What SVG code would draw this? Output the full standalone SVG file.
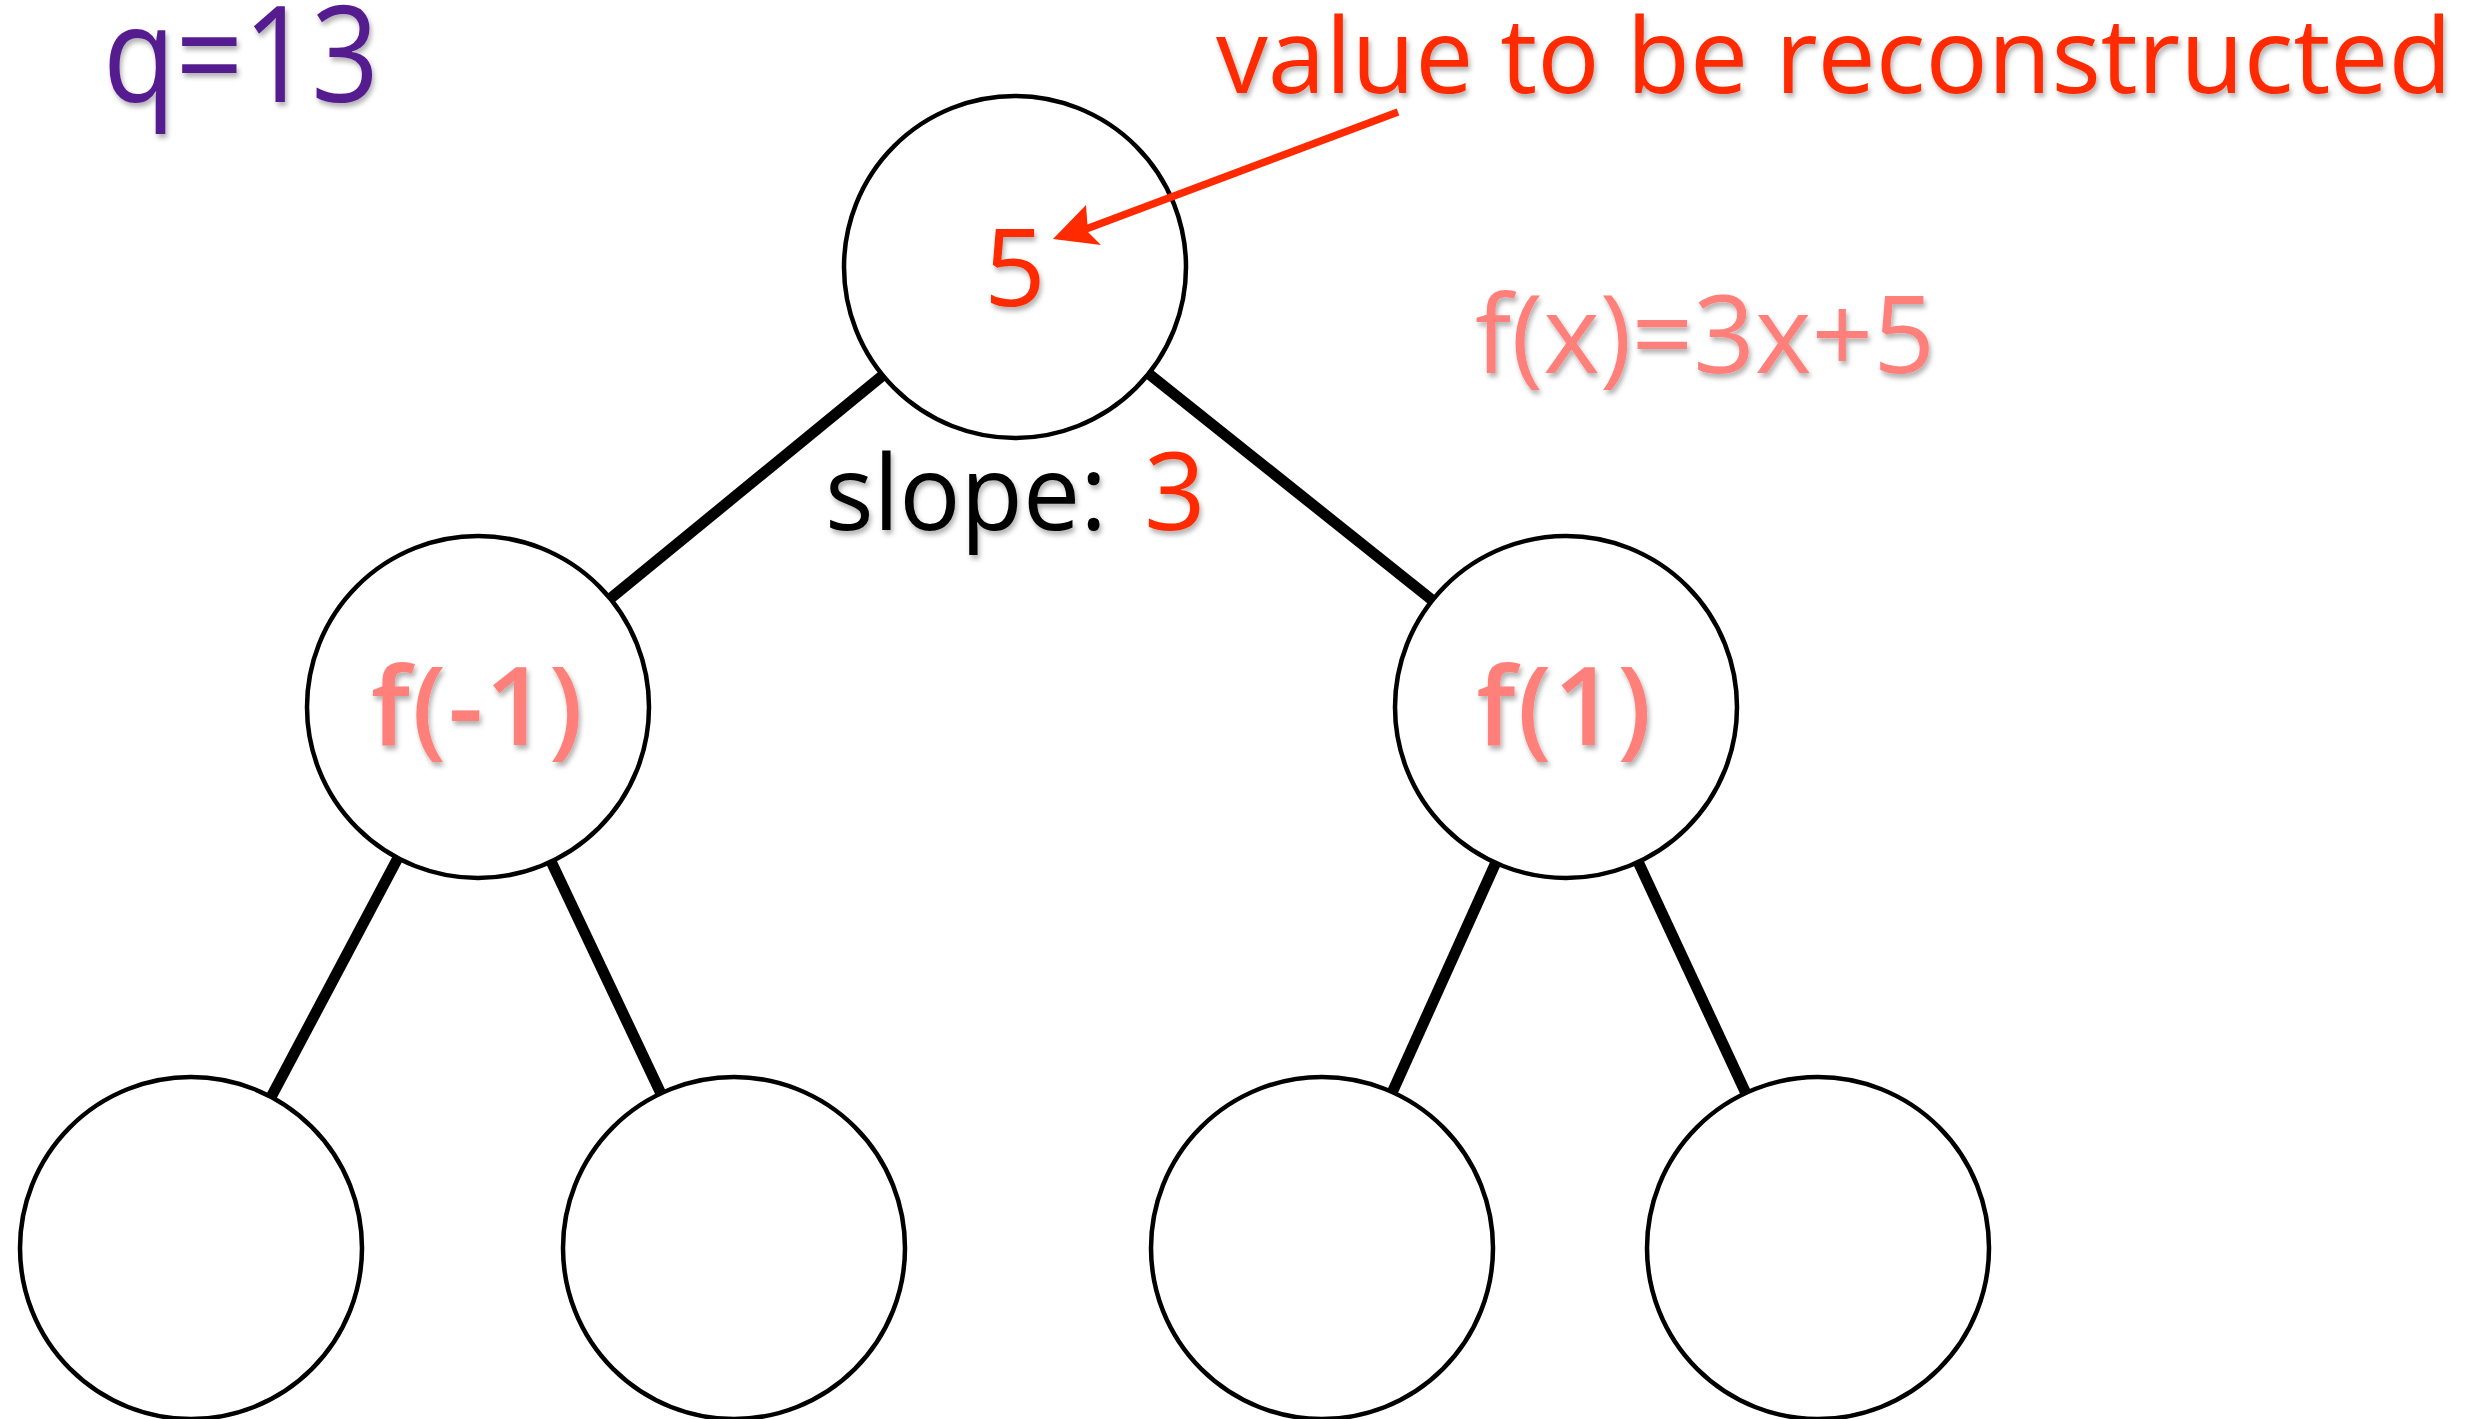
<svg xmlns="http://www.w3.org/2000/svg" width="2477" height="1419" viewBox="0 0 2477 1419">
<defs>
<filter id="sh" x="-10%" y="-10%" width="130%" height="140%">
<feDropShadow dx="2" dy="4" stdDeviation="2.5" flood-color="#000" flood-opacity="0.3"/>
</filter>
</defs>
<style>
.node{fill:#fff;stroke:#000;stroke-width:4.5}
.edge{stroke:#000;stroke-width:11;stroke-linecap:butt}
text{font-family:"Open Sans","Noto Sans","DejaVu Sans",sans-serif;filter:url(#sh)}
.red{fill:#ff2a00}
.pink{fill:#ff807a}
.blk{fill:#000}
</style>
<rect width="2477" height="1419" fill="#fff"/>
<g id="connectors">
<line class="edge" x1="1015" y1="267" x2="478" y2="707"/>
<line class="edge" x1="1015" y1="267" x2="1566" y2="707"/>
<line class="edge" x1="478" y1="707" x2="191" y2="1248"/>
<line class="edge" x1="478" y1="707" x2="734" y2="1248"/>
<line class="edge" x1="1566" y1="707" x2="1322" y2="1248"/>
<line class="edge" x1="1566" y1="707" x2="1818" y2="1248"/>
</g>
<g id="root">
<circle class="node" cx="1015" cy="267" r="171"/>
<text class="red" x="1015" y="306" font-size="108" text-anchor="middle" font-weight="500">5</text>
</g>
<g id="left">
<circle class="node" cx="478" cy="707" r="171"/>
<text class="pink" x="477" y="745" font-size="108" text-anchor="middle" textLength="212" lengthAdjust="spacing" font-weight="600">f(-1)</text>
</g>
<g id="right">
<circle class="node" cx="1566" cy="707" r="171"/>
<text class="pink" x="1564" y="745" font-size="108" text-anchor="middle" textLength="175" lengthAdjust="spacing" font-weight="600">f(1)</text>
</g>
<g id="ll"><circle class="node" cx="191" cy="1248" r="171"/></g>
<g id="lr"><circle class="node" cx="734" cy="1248" r="171"/></g>
<g id="rl"><circle class="node" cx="1322" cy="1248" r="171"/></g>
<g id="rr"><circle class="node" cx="1818" cy="1248" r="171"/></g>
<g id="labels">
<text x="103" y="102" font-size="133" fill="#541b8f" textLength="276" lengthAdjust="spacingAndGlyphs">q=13</text>
<text class="red" x="1216" y="93" font-size="104" textLength="1236" lengthAdjust="spacingAndGlyphs">value to be reconstructed</text>
<text class="blk" x="825" y="530" font-size="104" textLength="282" lengthAdjust="spacingAndGlyphs" font-weight="500">slope:</text>
<text class="red" x="1175" y="530" font-size="108" text-anchor="middle" font-weight="500">3</text>
<text class="pink" x="1475" y="373" font-size="108" textLength="460" lengthAdjust="spacingAndGlyphs">f(x)=3x+5</text>
</g>
<g id="arrow">
<line x1="1398" y1="112" x2="1086" y2="229" stroke="#ff2a00" stroke-width="7.5"/>
<polygon points="1053,239 1086,205 1088,232 1101,245" fill="#ff2a00"/>
</g>
</svg>
